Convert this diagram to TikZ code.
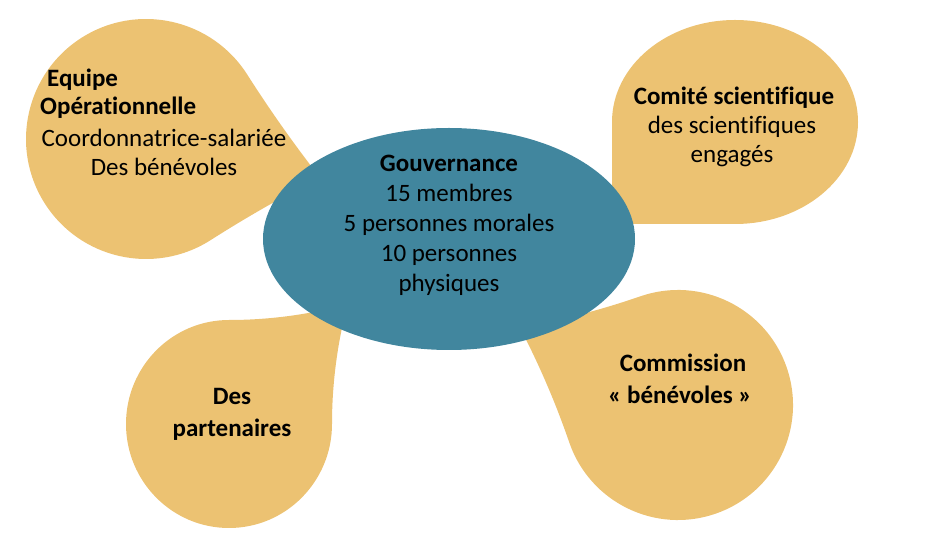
\documentclass[tikz,border=0pt]{standalone}
\usepackage{fontspec}
\setmainfont[Ligatures=NoCommon]{Carlito}
\definecolor{govteal}{RGB}{65,134,158}
\definecolor{dropgold}{RGB}{236,194,114}
\tikzset{
	lbl/.style={font=\fontsize{25}{30}\selectfont, inner sep=0pt},
	lblb/.style={font=\fontsize{25}{30}\selectfont\bfseries, inner sep=0pt}
}
\newcommand{\teardrop}[6]{%
	\fill[dropgold, shift={(#1,#2)}, rotate=#5] (-#3,0) arc[start angle=180, end angle=90, x radius=#3pt, y radius=#4pt]
		.. controls ({#6*#3/3},#4) and ({2*#6*#3/3},{(#6+2)*#4/3}) .. ({#6*#3},{#6*#4})
		.. controls ({(#6+2)*#3/3},{2*#6*#4/3}) and (#3,{#6*#4/3}) .. (#3,0)
		arc[start angle=0, end angle=-180, x radius=#3pt, y radius=#4pt] -- cycle;}
\begin{document}
\begin{tikzpicture}[x=1pt, y=1pt]
	\useasboundingbox (0,0) rectangle (945,538);
	\teardrop{146}{399}{120}{120}{-57.5}{1.05}
	\teardrop{735}{416}{123}{102}{180}{1}
	\teardrop{229}{114}{103}{104}{0}{1.15}
	\teardrop{678}{133}{115}{115}{109}{1.08}
	\fill[govteal] (449,299) ellipse [x radius=186pt, y radius=111pt];
	\node [lblb, anchor=base west] (eq1) at (47,451) {Equipe};
	\node [lblb, anchor=base west] (eq2) at (40,423) {Opérationnelle};
	\node [lbl, anchor=base] (eq3) at (164,391) {Coordonnatrice-salariée};
	\node [lbl, anchor=base] (eq4) at (164,362) {Des bénévoles};
	\node [lblb, anchor=base] (gov1) at (449,366) {Gouvernance};
	\node [lbl, anchor=base] (gov2) at (449,336) {15 membres};
	\node [lbl, anchor=base] (gov3) at (449,306) {5 personnes morales};
	\node [lbl, anchor=base] (gov4) at (449,276) {10 personnes};
	\node [lbl, anchor=base] (gov5) at (449,246) {physiques};
	\node [lblb, anchor=base] (sci1) at (734,433) {Comité scientifique};
	\node [lbl, anchor=base] (sci2) at (732,404) {des scientifiques};
	\node [lbl, anchor=base] (sci3) at (732,375) {engagés};
	\node [lblb, anchor=base] (par1) at (232,133) {Des};
	\node [lblb, anchor=base] (par2) at (232,101) {partenaires};
	\node [lblb, anchor=base] (com1) at (683,166) {Commission};
	\node [lblb, anchor=base] (com2) at (680,134) {«~bénévoles~»};
\end{tikzpicture}
\end{document}
